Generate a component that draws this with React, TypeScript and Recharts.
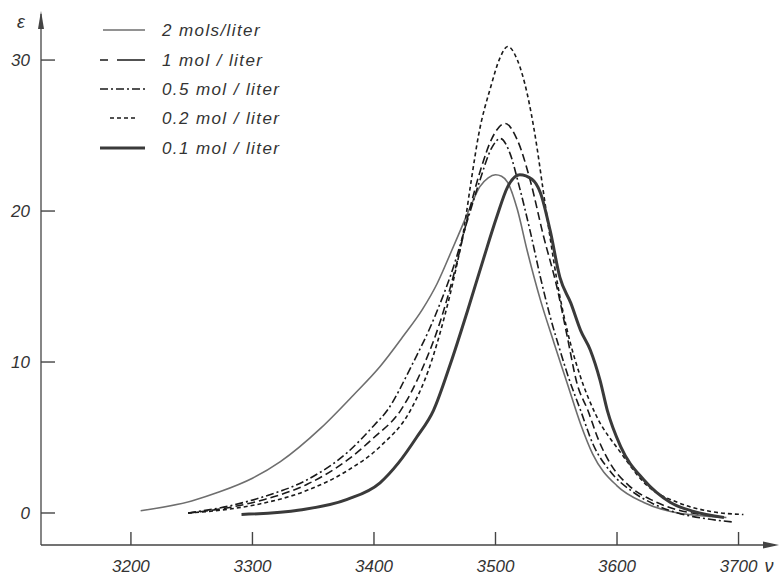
import React from 'react';
import { LineChart, Line, XAxis, YAxis, Legend, ReferenceLine, ReferenceDot } from 'recharts';

const xTicks = [3200, 3300, 3400, 3500, 3600, 3700];
const yTicks = [0, 10, 20, 30];
const xDomain: [number, number] = [3126, 3730];
const yDomain: [number, number] = [-2.12, 33.05];

const nu2mol = [3208, 3250, 3273, 3300, 3323, 3356, 3383, 3405, 3424, 3440, 3452, 3463, 3471, 3480, 3487, 3494, 3500, 3505, 3510, 3518, 3526, 3537, 3548, 3559, 3570, 3580, 3600, 3622, 3644, 3690];
const eps2mol = [0.15, 0.8, 1.4, 2.3, 3.4, 5.6, 7.8, 9.7, 11.7, 13.5, 15.2, 17.2, 18.7, 20.4, 21.6, 22.2, 22.4, 22.3, 21.9, 20.1, 17.4, 14.1, 11.3, 8.6, 5.9, 3.9, 1.8, 0.7, 0.1, -0.3];

const nu1mol = [3247, 3280, 3310, 3345, 3378, 3400, 3422, 3440, 3455, 3467, 3479, 3488, 3497, 3508, 3518, 3529, 3539, 3551, 3559, 3567, 3576, 3585, 3595, 3610, 3630, 3650, 3670, 3690];
const eps1mol = [0.0, 0.35, 0.9, 1.9, 3.5, 5.0, 6.8, 9.6, 12.8, 16.2, 20.2, 22.8, 24.8, 25.8, 24.7, 21.9, 18.5, 14.8, 11.7, 8.6, 6.8, 4.8, 3.2, 1.8, 0.8, 0.2, -0.1, -0.3];

const nu05mol = [3247, 3280, 3310, 3345, 3378, 3400, 3411, 3430, 3450, 3465, 3477, 3487, 3497, 3504, 3512, 3519, 3529, 3537, 3545, 3553, 3560, 3570, 3580, 3595, 3613, 3630, 3650, 3675, 3696];
const eps05mol = [0.0, 0.45, 1.1, 2.2, 4.0, 5.8, 6.8, 9.6, 13.0, 16.2, 19.4, 22.0, 24.2, 24.8, 23.8, 21.8, 18.5, 15.6, 13.0, 10.8, 9.0, 6.8, 4.6, 2.7, 1.4, 0.6, 0.0, -0.4, -0.6];

const nu02mol = [3247, 3280, 3306, 3345, 3378, 3405, 3430, 3445, 3458, 3467, 3474, 3480, 3486, 3496, 3504, 3510, 3518, 3526, 3533, 3539, 3545, 3551, 3559, 3570, 3582, 3603, 3625, 3650, 3677, 3704];
const eps02mol = [0.0, 0.25, 0.6, 1.5, 2.8, 4.4, 6.8, 9.5, 13.0, 16.0, 18.8, 22.0, 25.0, 28.2, 30.2, 30.9, 30.0, 27.8, 24.8, 21.5, 18.2, 15.2, 12.1, 9.0, 6.6, 4.0, 1.8, 0.7, 0.1, -0.1];

const nu01mol = [3291, 3339, 3378, 3405, 3420, 3435, 3449, 3463, 3477, 3490, 3501, 3510, 3520, 3530, 3537, 3545, 3553, 3562, 3570, 3578, 3586, 3592, 3603, 3622, 3644, 3663, 3688];
const eps01mol = [-0.1, 0.2, 0.9, 2.0, 3.3, 5.0, 6.8, 9.9, 13.4, 16.8, 19.6, 21.6, 22.4, 22.1, 21.2, 18.7, 15.6, 13.9, 12.1, 10.8, 8.8, 6.8, 4.4, 2.2, 0.7, 0.1, -0.3];

const seriesNames = ['2 mols/liter', '1 mol / liter', '0.5 mol / liter', '0.2 mol / liter', '0.1 mol / liter'];

const toRows = (nu: number[], eps: number[]) => nu.map((n, i) => ({ nu: n, eps: eps[i] }));

const series = [
  { name: seriesNames[0], data: toRows(nu2mol, eps2mol), stroke: '#6e6e6e', width: 1.6, dash: undefined as string | undefined },
  { name: seriesNames[1], data: toRows(nu1mol, eps1mol), stroke: '#1a1a1a', width: 1.6, dash: '8 4' },
  { name: seriesNames[2], data: toRows(nu05mol, eps05mol), stroke: '#1a1a1a', width: 1.6, dash: '8 3 2 3' },
  { name: seriesNames[3], data: toRows(nu02mol, eps02mol), stroke: '#1a1a1a', width: 1.6, dash: '4 3' },
  { name: seriesNames[4], data: toRows(nu01mol, eps01mol), stroke: '#3a3a3a', width: 3, dash: undefined as string | undefined },
];

const FONT = '"Liberation Sans", Arial, sans-serif';
const TEXT = '#333';
const AXIS = '#444';

// inward tick mark lengths expressed in data units (px / scale)
const xTickLen = 13 / (531 / (yDomain[1] - yDomain[0]));
const yTickLen = 14 / (734 / (xDomain[1] - xDomain[0]));

const XTick = (props: any) => {
  const { x, y, payload } = props;
  return (
    <text x={x} y={y + 27} textAnchor="middle" fontStyle="italic" fontSize={17} fill={TEXT} fontFamily={FONT}>
      {payload.value}
    </text>
  );
};

const YTick = (props: any) => {
  const { x, y, payload } = props;
  return (
    <text x={x - 11} y={y + 6} textAnchor="end" fontStyle="italic" fontSize={17} fill={TEXT} fontFamily={FONT}>
      {payload.value}
    </text>
  );
};

const legendY = [15, 45, 74, 103, 133];

const LegendContent = () => (
  <svg width={220} height={150} style={{ overflow: 'visible' }}>
    <line x1={8} y1={legendY[0]} x2={50} y2={legendY[0]} stroke={series[0].stroke} strokeWidth={1.6} />
    <line x1={5} y1={legendY[1]} x2={50} y2={legendY[1]} stroke={series[1].stroke} strokeWidth={1.6} strokeDasharray="8 9 30" />
    <line x1={5} y1={legendY[2]} x2={50} y2={legendY[2]} stroke={series[2].stroke} strokeWidth={1.6} strokeDasharray="8 3 2 3" />
    <line x1={15} y1={legendY[3]} x2={40} y2={legendY[3]} stroke={series[3].stroke} strokeWidth={1.6} strokeDasharray="4 3" />
    <line x1={5} y1={legendY[4]} x2={50} y2={legendY[4]} stroke={series[4].stroke} strokeWidth={3} />
    {series.map((s, i) => (
      <text key={s.name} x={67} y={legendY[i] + 6} fontStyle="italic" fontSize={17} letterSpacing={1.4} fill={TEXT} fontFamily={FONT}>
        {s.name}
      </text>
    ))}
  </svg>
);

const RightArrow = (p: any) => {
  const { cx, cy } = p;
  return <path d={`M${cx + 4},${cy} L${cx - 12},${cy - 3.5} L${cx - 12},${cy + 3.5} Z`} fill={AXIS} />;
};

const UpArrow = (p: any) => {
  const { cx, cy } = p;
  return <path d={`M${cx},${cy - 3} L${cx - 3},${cy + 15} L${cx + 3},${cy + 15} Z`} fill={AXIS} />;
};

export default function App() {
  return (
    <div style={{ position: 'absolute', left: 0, top: 0, width: 780, height: 575, background: '#fff' }}>
      <LineChart width={780} height={575} margin={{ top: 14, right: 5, bottom: 0, left: 0 }} style={{ fontFamily: FONT }}>
        <XAxis
          dataKey="nu"
          type="number"
          domain={xDomain}
          allowDataOverflow
          ticks={xTicks}
          tick={<XTick />}
          tickLine={false}
          tickSize={0}
          tickMargin={0}
          height={30}
          interval={0}
          axisLine={{ stroke: AXIS, strokeWidth: 1.3 }}
          label={{
            content: (p: any) => (
              <text x={p.viewBox.x + p.viewBox.width - 6} y={p.viewBox.y + 27} textAnchor="middle" fontStyle="italic" fontSize={18} fill={TEXT} fontFamily={FONT}>
                ν
              </text>
            ),
          }}
        />
        <YAxis
          type="number"
          domain={yDomain}
          allowDataOverflow
          ticks={yTicks}
          tick={<YTick />}
          tickLine={false}
          tickSize={0}
          tickMargin={0}
          width={41}
          interval={0}
          axisLine={{ stroke: AXIS, strokeWidth: 1.3 }}
          label={{
            content: (p: any) => (
              <text x={p.viewBox.x + 21} y={p.viewBox.y + 14} textAnchor="middle" fontStyle="italic" fontSize={18} fill={TEXT} fontFamily={FONT}>
                ε
              </text>
            ),
          }}
        />
        {xTicks.map((t) => (
          <ReferenceLine
            key={'xt' + t}
            segment={[{ x: t, y: yDomain[0] }, { x: t, y: yDomain[0] + xTickLen }]}
            stroke="#444"
            strokeWidth={1.4}
            ifOverflow="visible"
          />
        ))}
        {yTicks.map((t) => (
          <ReferenceLine
            key={'yt' + t}
            segment={[{ x: xDomain[0], y: t }, { x: xDomain[0] + yTickLen, y: t }]}
            stroke="#444"
            strokeWidth={1.4}
            ifOverflow="visible"
          />
        ))}
        <ReferenceDot x={xDomain[1]} y={yDomain[0]} ifOverflow="visible" shape={(p: any) => <RightArrow {...p} />} />
        <ReferenceDot x={xDomain[0]} y={yDomain[1]} ifOverflow="visible" shape={(p: any) => <UpArrow {...p} />} />
        <Legend
          layout="vertical"
          align="center"
          verticalAlign="middle"
          wrapperStyle={{ left: 95, top: 15, width: 220, height: 150 }}
          content={() => <LegendContent />}
        />
        {series.map((s) => (
          <Line
            key={s.name}
            name={s.name}
            data={s.data}
            dataKey="eps"
            type="monotone"
            stroke={s.stroke}
            strokeWidth={s.width}
            strokeDasharray={s.dash}
            dot={false}
            activeDot={false}
            isAnimationActive={false}
          />
        ))}
      </LineChart>
    </div>
  );
}
